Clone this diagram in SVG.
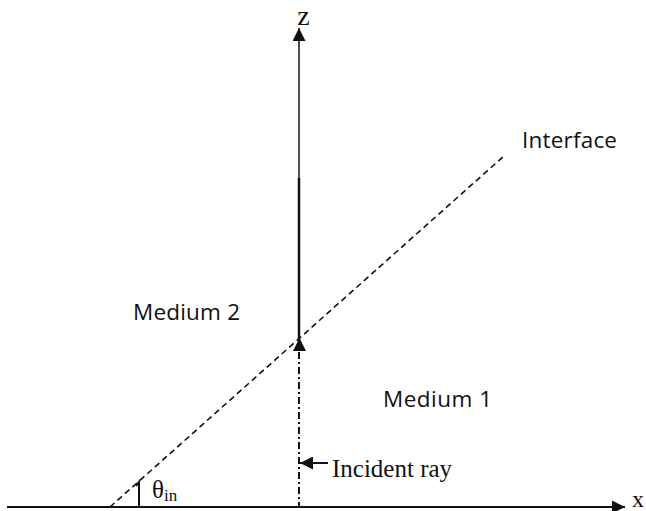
<svg xmlns="http://www.w3.org/2000/svg" width="646" height="511" viewBox="0 0 646 511">
<style>
.sans{font-family:"Open Sans","Liberation Sans",sans-serif;font-size:22.5px;fill:#111}
.serif{font-family:"Liberation Serif","DejaVu Serif",serif;fill:#111}
.ln{stroke:#111;fill:none}
</style>
<defs>
<marker id="ah" viewBox="0 0 10 10" refX="10" refY="5" markerWidth="13" markerHeight="13" markerUnits="userSpaceOnUse" orient="auto"><path d="M0,0 L10,5 L0,10 z" fill="#111"/></marker>
</defs>
<rect width="646" height="511" fill="#fff"/>
<g id="connectors">
<line class="ln" x1="7" y1="507" x2="625" y2="507" stroke-width="2" marker-end="url(#ah)"/>
<line class="ln" x1="299" y1="178" x2="299" y2="28" stroke-width="1.5" stroke="#333" marker-end="url(#ah)"/>
<line class="ln" x1="299" y1="350" x2="299" y2="178" stroke-width="2.5"/>
<path d="M293,351 L299.5,338 L306,351 z" fill="#111"/>
<line class="ln" x1="299" y1="352" x2="299" y2="507" stroke-width="2" stroke-dasharray="7,3,2,3"/>
<line class="ln" x1="110" y1="507" x2="504" y2="156" stroke-width="1.6" stroke-dasharray="6,4"/>
<line class="ln" x1="328" y1="463" x2="300" y2="463" stroke-width="2" marker-end="url(#ah)"/>
<path class="ln" d="M139,507 L139,482 L136,486" stroke-width="2"/>
</g>
<g id="label-z"><text class="serif" x="303.5" y="25" font-size="28" text-anchor="middle">z</text></g>
<g id="label-x"><text class="serif" x="638" y="507" font-size="24" text-anchor="middle">x</text></g>
<g id="label-interface"><text class="sans" x="522" y="148" textLength="95">Interface</text></g>
<g id="label-medium2"><text class="sans" x="133" y="320" textLength="107">Medium 2</text></g>
<g id="label-medium1"><text class="sans" x="383" y="407" textLength="109">Medium 1</text></g>
<g id="label-incident"><text class="serif" x="332" y="477" font-size="25">Incident ray</text></g>
<g id="label-theta"><text class="serif" x="152" y="498" font-size="25">θ<tspan font-size="17" dy="3">in</tspan></text></g>
</svg>
